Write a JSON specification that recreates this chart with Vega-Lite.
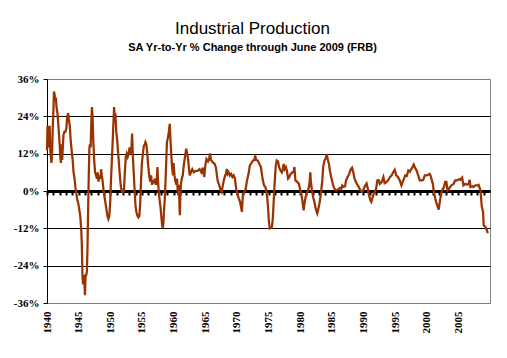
{
  "$schema": "https://vega.github.io/schema/vega-lite/v6.json",
  "width": 443,
  "height": 224,
  "autosize": "none",
  "padding": {"left": 47, "top": 79, "right": 17, "bottom": 55},
  "background": "white",
  "title": {
    "text": "Industrial Production",
    "subtitle": "SA Yr-to-Yr % Change through June 2009 (FRB)",
    "font": "Liberation Sans",
    "fontSize": 17,
    "fontWeight": "normal",
    "color": "black",
    "subtitleFont": "Liberation Sans",
    "subtitleFontSize": 11,
    "subtitleFontWeight": "bold",
    "subtitleColor": "black",
    "subtitlePadding": 4,
    "anchor": "middle",
    "frame": "group",
    "offset": 19,
    "dx": -16
  },
  "config": {"view": {"stroke": "#808080", "strokeWidth": 1}},
  "data": {"values": [
    {"year":1940.0,"pct":13},{"year":1940.08,"pct":21},{"year":1940.17,"pct":14},{"year":1940.25,"pct":20},{"year":1940.33,"pct":15},{"year":1940.42,"pct":21},{"year":1940.5,"pct":14},{"year":1940.6,"pct":11},{"year":1940.7,"pct":9},{"year":1940.8,"pct":12},{"year":1940.9,"pct":20},
    {"year":1941.0,"pct":25},{"year":1941.1,"pct":32},{"year":1941.2,"pct":31},{"year":1941.3,"pct":29},{"year":1941.4,"pct":30},{"year":1941.5,"pct":27},{"year":1941.65,"pct":25},{"year":1941.8,"pct":21},{"year":1941.9,"pct":18},
    {"year":1942.0,"pct":15},{"year":1942.1,"pct":11},{"year":1942.2,"pct":9},{"year":1942.3,"pct":15},{"year":1942.4,"pct":10},{"year":1942.5,"pct":14},{"year":1942.6,"pct":18},{"year":1942.75,"pct":19},{"year":1942.9,"pct":19},
    {"year":1943.05,"pct":20},{"year":1943.2,"pct":24},{"year":1943.35,"pct":25},{"year":1943.45,"pct":23},{"year":1943.6,"pct":21},{"year":1943.75,"pct":16},{"year":1943.9,"pct":13},
    {"year":1944.05,"pct":10},{"year":1944.2,"pct":6},{"year":1944.35,"pct":4},{"year":1944.5,"pct":1},{"year":1944.65,"pct":-1},{"year":1944.8,"pct":-3},{"year":1944.95,"pct":-4},
    {"year":1945.1,"pct":-6},{"year":1945.25,"pct":-8},{"year":1945.4,"pct":-12},{"year":1945.5,"pct":-17},{"year":1945.6,"pct":-27},{"year":1945.7,"pct":-30},{"year":1945.8,"pct":-27},{"year":1945.9,"pct":-29},
    {"year":1946.0,"pct":-33.5},{"year":1946.1,"pct":-27},{"year":1946.2,"pct":-27},{"year":1946.3,"pct":-26},{"year":1946.4,"pct":-18},{"year":1946.5,"pct":-6},{"year":1946.6,"pct":5},{"year":1946.7,"pct":14},{"year":1946.8,"pct":15},{"year":1946.9,"pct":14},
    {"year":1947.0,"pct":22},{"year":1947.1,"pct":27},{"year":1947.2,"pct":24},{"year":1947.3,"pct":17},{"year":1947.45,"pct":10},{"year":1947.6,"pct":6},{"year":1947.75,"pct":5},{"year":1947.9,"pct":4},
    {"year":1948.0,"pct":6},{"year":1948.15,"pct":3},{"year":1948.3,"pct":5},{"year":1948.45,"pct":4},{"year":1948.55,"pct":7},{"year":1948.65,"pct":5},{"year":1948.8,"pct":3},{"year":1948.95,"pct":0},
    {"year":1949.1,"pct":-2},{"year":1949.25,"pct":-4},{"year":1949.4,"pct":-6},{"year":1949.55,"pct":-8},{"year":1949.7,"pct":-9},{"year":1949.85,"pct":-8},
    {"year":1950.0,"pct":-3},{"year":1950.1,"pct":3},{"year":1950.25,"pct":10},{"year":1950.4,"pct":17},{"year":1950.5,"pct":22},{"year":1950.6,"pct":27},{"year":1950.7,"pct":24},{"year":1950.8,"pct":25},{"year":1950.95,"pct":19},
    {"year":1951.1,"pct":16},{"year":1951.25,"pct":12},{"year":1951.4,"pct":8},{"year":1951.55,"pct":4},{"year":1951.7,"pct":1},{"year":1951.85,"pct":0},
    {"year":1952.0,"pct":-0.5},{"year":1952.15,"pct":0},{"year":1952.3,"pct":6},{"year":1952.45,"pct":11},{"year":1952.6,"pct":12},{"year":1952.75,"pct":11},{"year":1952.9,"pct":12},
    {"year":1953.05,"pct":14},{"year":1953.2,"pct":12},{"year":1953.35,"pct":14},{"year":1953.45,"pct":18.5},{"year":1953.55,"pct":12},{"year":1953.7,"pct":6},{"year":1953.85,"pct":0},
    {"year":1954.0,"pct":-5},{"year":1954.15,"pct":-7},{"year":1954.3,"pct":-8},{"year":1954.45,"pct":-8.5},{"year":1954.6,"pct":-8},{"year":1954.75,"pct":-3},{"year":1954.85,"pct":3},
    {"year":1955.0,"pct":9},{"year":1955.15,"pct":12},{"year":1955.3,"pct":14.5},{"year":1955.45,"pct":15},{"year":1955.55,"pct":15.7},{"year":1955.7,"pct":15},{"year":1955.85,"pct":12},
    {"year":1956.0,"pct":8},{"year":1956.15,"pct":5},{"year":1956.3,"pct":3},{"year":1956.45,"pct":5},{"year":1956.6,"pct":2},{"year":1956.75,"pct":3.5},{"year":1956.9,"pct":2.5},
    {"year":1957.05,"pct":4},{"year":1957.2,"pct":2},{"year":1957.35,"pct":3},{"year":1957.45,"pct":7.7},{"year":1957.55,"pct":3},{"year":1957.65,"pct":0},{"year":1957.8,"pct":-3},{"year":1957.95,"pct":-5.5},
    {"year":1958.1,"pct":-9},{"year":1958.2,"pct":-11},{"year":1958.3,"pct":-12},{"year":1958.4,"pct":-10},{"year":1958.5,"pct":-6},{"year":1958.6,"pct":-3},{"year":1958.75,"pct":4},{"year":1958.85,"pct":10},{"year":1958.95,"pct":15.7},
    {"year":1959.1,"pct":17},{"year":1959.25,"pct":19},{"year":1959.4,"pct":21.6},{"year":1959.5,"pct":17},{"year":1959.6,"pct":13},{"year":1959.75,"pct":8},{"year":1959.9,"pct":5},
    {"year":1960.0,"pct":9},{"year":1960.15,"pct":5},{"year":1960.3,"pct":3},{"year":1960.45,"pct":2},{"year":1960.55,"pct":4},{"year":1960.65,"pct":0},{"year":1960.75,"pct":-1.4},{"year":1960.85,"pct":2},{"year":1960.95,"pct":-6},
    {"year":1961.0,"pct":-7.8},{"year":1961.05,"pct":-3},{"year":1961.15,"pct":2},{"year":1961.3,"pct":4},{"year":1961.45,"pct":5},{"year":1961.6,"pct":8},{"year":1961.8,"pct":11},
    {"year":1962.0,"pct":13.6},{"year":1962.1,"pct":12.5},{"year":1962.25,"pct":11},{"year":1962.4,"pct":8},{"year":1962.55,"pct":5},{"year":1962.75,"pct":6},{"year":1962.95,"pct":7},
    {"year":1963.2,"pct":6},{"year":1963.5,"pct":6.5},{"year":1963.8,"pct":6.5},
    {"year":1964.1,"pct":7},{"year":1964.4,"pct":6},{"year":1964.6,"pct":7.5},{"year":1964.85,"pct":4.5},
    {"year":1965.0,"pct":8},{"year":1965.2,"pct":10.3},{"year":1965.45,"pct":9.5},{"year":1965.6,"pct":10},{"year":1965.75,"pct":12.1},{"year":1965.9,"pct":10},
    {"year":1966.1,"pct":9.5},{"year":1966.3,"pct":9},{"year":1966.5,"pct":8.7},{"year":1966.7,"pct":7.5},{"year":1966.85,"pct":5},
    {"year":1967.0,"pct":3},{"year":1967.2,"pct":2},{"year":1967.4,"pct":0.5},{"year":1967.6,"pct":-0.3},{"year":1967.75,"pct":1.5},{"year":1967.95,"pct":3.5},
    {"year":1968.15,"pct":5},{"year":1968.3,"pct":5.5},{"year":1968.4,"pct":7.1},{"year":1968.55,"pct":5.5},{"year":1968.7,"pct":6},{"year":1968.9,"pct":5},
    {"year":1969.1,"pct":5.5},{"year":1969.3,"pct":4.5},{"year":1969.5,"pct":5},{"year":1969.7,"pct":4},{"year":1969.9,"pct":0.5},
    {"year":1970.1,"pct":-1},{"year":1970.3,"pct":-2.4},{"year":1970.5,"pct":-3.5},{"year":1970.65,"pct":-5},{"year":1970.8,"pct":-6.7},{"year":1970.95,"pct":-1},
    {"year":1971.15,"pct":-0.5},{"year":1971.4,"pct":0.7},{"year":1971.6,"pct":3.4},{"year":1971.85,"pct":5.5},
    {"year":1972.05,"pct":8.2},{"year":1972.3,"pct":9},{"year":1972.55,"pct":9.8},{"year":1972.75,"pct":10},{"year":1972.9,"pct":11.4},
    {"year":1973.05,"pct":10},{"year":1973.3,"pct":9.8},{"year":1973.6,"pct":8.5},{"year":1973.8,"pct":7.7},{"year":1973.95,"pct":5.5},
    {"year":1974.1,"pct":3.5},{"year":1974.3,"pct":1.8},{"year":1974.5,"pct":1.3},{"year":1974.65,"pct":0.2},{"year":1974.8,"pct":-2},{"year":1974.95,"pct":-6},
    {"year":1975.05,"pct":-9.5},{"year":1975.2,"pct":-12},{"year":1975.4,"pct":-11.8},{"year":1975.55,"pct":-11.5},{"year":1975.7,"pct":-8.3},{"year":1975.85,"pct":-2},
    {"year":1976.0,"pct":3.4},{"year":1976.15,"pct":8.2},{"year":1976.3,"pct":9.8},{"year":1976.5,"pct":9.5},{"year":1976.7,"pct":7.5},{"year":1976.9,"pct":6.6},
    {"year":1977.1,"pct":6},{"year":1977.25,"pct":7},{"year":1977.4,"pct":8.7},{"year":1977.55,"pct":7},{"year":1977.75,"pct":7.7},{"year":1977.9,"pct":6.6},
    {"year":1978.1,"pct":4},{"year":1978.3,"pct":4.5},{"year":1978.5,"pct":5.5},{"year":1978.75,"pct":6},{"year":1978.95,"pct":6},
    {"year":1979.1,"pct":7.7},{"year":1979.25,"pct":3.4},{"year":1979.5,"pct":3},{"year":1979.8,"pct":2.3},
    {"year":1980.0,"pct":0.5},{"year":1980.2,"pct":-1},{"year":1980.35,"pct":-3},{"year":1980.55,"pct":-6.2},{"year":1980.7,"pct":-4},{"year":1980.85,"pct":-2},
    {"year":1981.0,"pct":-1},{"year":1981.2,"pct":0},{"year":1981.4,"pct":1.3},{"year":1981.5,"pct":3},{"year":1981.6,"pct":6},{"year":1981.7,"pct":3},{"year":1981.85,"pct":0.5},
    {"year":1982.05,"pct":-2},{"year":1982.2,"pct":-3},{"year":1982.35,"pct":-4.5},{"year":1982.5,"pct":-6},{"year":1982.7,"pct":-7.2},{"year":1982.85,"pct":-6},
    {"year":1983.05,"pct":-4},{"year":1983.2,"pct":-2},{"year":1983.35,"pct":0.5},{"year":1983.5,"pct":3.4},{"year":1983.65,"pct":8},{"year":1983.85,"pct":9.8},
    {"year":1984.05,"pct":10.5},{"year":1984.2,"pct":11.9},{"year":1984.35,"pct":10.3},{"year":1984.55,"pct":8.7},{"year":1984.7,"pct":6.5},{"year":1984.9,"pct":4.5},
    {"year":1985.1,"pct":2.8},{"year":1985.3,"pct":1.3},{"year":1985.5,"pct":0.5},{"year":1985.75,"pct":0.2},
    {"year":1986.0,"pct":0.5},{"year":1986.3,"pct":1},{"year":1986.5,"pct":0.7},{"year":1986.65,"pct":1.8},{"year":1986.9,"pct":1.3},
    {"year":1987.1,"pct":1.5},{"year":1987.25,"pct":3.4},{"year":1987.5,"pct":4.5},{"year":1987.75,"pct":5.5},
    {"year":1988.0,"pct":7},{"year":1988.2,"pct":7.5},{"year":1988.4,"pct":6},{"year":1988.6,"pct":4},{"year":1988.9,"pct":2.5},
    {"year":1989.2,"pct":1.5},{"year":1989.5,"pct":0.3},{"year":1989.8,"pct":-0.3},
    {"year":1990.0,"pct":0.5},{"year":1990.3,"pct":1.8},{"year":1990.5,"pct":2.4},{"year":1990.7,"pct":0.7},{"year":1990.9,"pct":-1.5},
    {"year":1991.1,"pct":-3},{"year":1991.25,"pct":-3.5},{"year":1991.45,"pct":-2},{"year":1991.7,"pct":-0.5},
    {"year":1992.0,"pct":0.7},{"year":1992.2,"pct":3.4},{"year":1992.4,"pct":3.5},{"year":1992.6,"pct":2.3},{"year":1992.85,"pct":2.8},
    {"year":1993.0,"pct":3.6},{"year":1993.15,"pct":4.5},{"year":1993.35,"pct":2.5},{"year":1993.6,"pct":2.8},{"year":1993.9,"pct":3.4},
    {"year":1994.2,"pct":4.5},{"year":1994.45,"pct":5},{"year":1994.7,"pct":6},{"year":1994.95,"pct":6.8},
    {"year":1995.2,"pct":5},{"year":1995.45,"pct":4.5},{"year":1995.75,"pct":3.4},
    {"year":1996.0,"pct":1.8},{"year":1996.3,"pct":3.4},{"year":1996.6,"pct":5},{"year":1996.85,"pct":4.8},
    {"year":1997.1,"pct":6.6},{"year":1997.35,"pct":6.2},{"year":1997.5,"pct":6.8},{"year":1997.7,"pct":7.5},{"year":1997.95,"pct":8.5},
    {"year":1998.15,"pct":7.5},{"year":1998.4,"pct":6.6},{"year":1998.65,"pct":5},{"year":1998.9,"pct":3.4},
    {"year":1999.2,"pct":3.4},{"year":1999.45,"pct":3.6},{"year":1999.7,"pct":5},
    {"year":2000.0,"pct":5},{"year":2000.3,"pct":5.3},{"year":2000.45,"pct":5.5},{"year":2000.6,"pct":5},{"year":2000.8,"pct":3.5},{"year":2000.97,"pct":2.3},
    {"year":2001.1,"pct":0.2},{"year":2001.35,"pct":-2.4},{"year":2001.55,"pct":-4},{"year":2001.75,"pct":-5.1},{"year":2001.9,"pct":-6},
    {"year":2002.1,"pct":-3},{"year":2002.4,"pct":0.2},{"year":2002.75,"pct":1.3},{"year":2002.9,"pct":2.9},
    {"year":2003.1,"pct":2.9},{"year":2003.3,"pct":0.2},{"year":2003.45,"pct":0.5},{"year":2003.7,"pct":1.3},
    {"year":2004.0,"pct":2},{"year":2004.25,"pct":2.3},{"year":2004.5,"pct":3.4},{"year":2004.8,"pct":3.4},
    {"year":2005.1,"pct":3.8},{"year":2005.3,"pct":3.6},{"year":2005.6,"pct":4.3},{"year":2005.8,"pct":1.8},
    {"year":2006.1,"pct":2.3},{"year":2006.4,"pct":2},{"year":2006.6,"pct":2.3},{"year":2006.8,"pct":3.6},{"year":2006.9,"pct":1.3},
    {"year":2007.2,"pct":1.5},{"year":2007.4,"pct":1.3},{"year":2007.7,"pct":1.8},
    {"year":2008.0,"pct":1.8},{"year":2008.2,"pct":2},{"year":2008.5,"pct":0.2},{"year":2008.7,"pct":-5.1},{"year":2008.9,"pct":-6.7},
    {"year":2009.0,"pct":-11},{"year":2009.25,"pct":-11.5},{"year":2009.5,"pct":-12.5},{"year":2009.65,"pct":-13.6}
  ]},
  "encoding": {
    "y": {
      "field": "pct",
      "type": "quantitative",
      "scale": {"domain": [-36, 36], "nice": false, "zero": false},
      "axis": {
        "title": null,
        "values": [-36, -24, -12, 0, 12, 24, 36],
        "labelExpr": "datum.value + '%'",
        "labelFont": "Liberation Serif",
        "labelFontSize": 11,
        "labelFontWeight": "bold",
        "labelColor": "black",
        "labelPadding": 4,
        "domainColor": "black",
        "domainWidth": 1,
        "tickColor": "black",
        "tickSize": 4,
        "tickWidth": 1,
        "grid": true,
        "gridColor": {"condition": {"test": "abs(datum.value) == 36", "value": "#808080"}, "value": "black"},
        "gridWidth": 1
      }
    }
  },
  "layer": [
    {
      "mark": {"type": "line", "opacity": 0},
      "encoding": {
        "x": {
          "field": "year",
          "type": "quantitative",
          "scale": {"domain": [1940, 2010], "nice": false, "zero": false},
          "axis": {
            "orient": "bottom",
            "offset": -112,
            "title": null,
            "values": [1940,1941,1942,1943,1944,1945,1946,1947,1948,1949,1950,1951,1952,1953,1954,1955,1956,1957,1958,1959,1960,1961,1962,1963,1964,1965,1966,1967,1968,1969,1970,1971,1972,1973,1974,1975,1976,1977,1978,1979,1980,1981,1982,1983,1984,1985,1986,1987,1988,1989,1990,1991,1992,1993,1994,1995,1996,1997,1998,1999,2000,2001,2002,2003,2004,2005,2006,2007,2008,2009],
            "labels": false,
            "grid": false,
            "domain": true,
            "domainColor": "black",
            "domainWidth": 3,
            "ticks": true,
            "tickColor": "black",
            "tickWidth": 2,
            "tickSize": 4
          }
        }
      }
    },
    {
      "mark": {"type": "line", "color": "#993300", "strokeWidth": 2.25},
      "encoding": {
        "x": {
          "field": "year",
          "type": "quantitative",
          "scale": {"domain": [1940, 2010], "nice": false, "zero": false},
          "axis": {
            "orient": "bottom",
            "title": null,
            "values": [1940,1945,1950,1955,1960,1965,1970,1975,1980,1985,1990,1995,2000,2005],
            "format": "d",
            "labelAngle": 270,
            "labelFont": "Liberation Serif",
            "labelFontSize": 11,
            "labelFontWeight": "bold",
            "labelColor": "black",
            "labelPadding": 8,
            "labelFlush": false,
            "labelOverlap": false,
            "labelBound": false,
            "domain": false,
            "ticks": false,
            "grid": false
          }
        }
      }
    }
  ],
  "resolve": {"axis": {"x": "independent"}}
}
